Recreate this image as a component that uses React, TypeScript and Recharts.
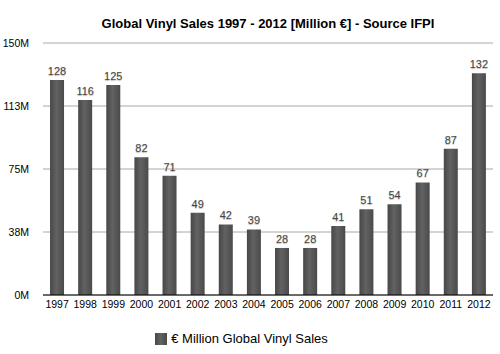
import { Bar, BarChart, CartesianGrid, LabelList, Legend, XAxis, YAxis } from "recharts";

const years = ["1997", "1998", "1999", "2000", "2001", "2002", "2003", "2004", "2005", "2006", "2007", "2008", "2009", "2010", "2011", "2012"];
const sales = [128, 116, 125, 82, 71, 49, 42, 39, 28, 28, 41, 51, 54, 67, 87, 132];
const yTicks = [0, 37.5, 75, 112.5, 150];

const font = '"Liberation Sans", Arial, Helvetica, sans-serif';

export default function App() {
  const data = years.map((y, i) => ({ year: y, sales: sales[i] }));

  return (
    <div style={{ position: "absolute", left: 0, top: 0, width: 500, height: 354, background: "#fff", fontFamily: font }}>
      <div
        style={{
          position: "absolute",
          top: 16,
          left: 43,
          width: 450,
          textAlign: "center",
          fontWeight: "bold",
          fontSize: 13,
          color: "#000",
        }}
      >
        Global Vinyl Sales 1997 - 2012 [Million €] - Source IFPI
      </div>
      <BarChart
        width={500}
        height={354}
        data={data}
        barCategoryGap="25%"
        margin={{ top: 43, right: 7, left: 0, bottom: 19 }}
      >
        <defs>
          <linearGradient id="vinyl" x1="0" y1="0" x2="1" y2="0">
            <stop offset="0%" stopColor="#474747" />
            <stop offset="45%" stopColor="#626262" />
            <stop offset="100%" stopColor="#4a4a4a" />
          </linearGradient>
        </defs>
        <CartesianGrid vertical={false} stroke="#a8a8a8" />
        <XAxis
          dataKey="year"
          tickLine={false}
          axisLine={{ stroke: "#000" }}
          tickMargin={0}
          tick={{ fill: "#000", fontSize: 10.5, fontFamily: font }}
          interval={0}
          height={22}
        />
        <YAxis
          domain={[0, 150]}
          ticks={yTicks}
          tickFormatter={(v: number) => `${Math.round(v)}M`}
          tickLine={false}
          axisLine={false}
          tickMargin={8}
          width={43}
          tick={{ fill: "#000", fontSize: 10.5, fontFamily: font }}
        />
        <Legend
          verticalAlign="bottom"
          iconType="square"
          iconSize={12}
          wrapperStyle={{ bottom: 7 }}
          formatter={(v: string) => <span style={{ color: "#000", fontSize: 13, fontFamily: font }}>{v}</span>}
        />
        <Bar dataKey="sales" name="€ Million Global Vinyl Sales" fill="url(#vinyl)" isAnimationActive={false}>
          <LabelList
            dataKey="sales"
            position="top"
            offset={5}
            style={{ fill: "#444", fontSize: 11, fontFamily: font, textShadow: "0 1px 1px #bbb" }}
          />
        </Bar>
      </BarChart>
    </div>
  );
}
